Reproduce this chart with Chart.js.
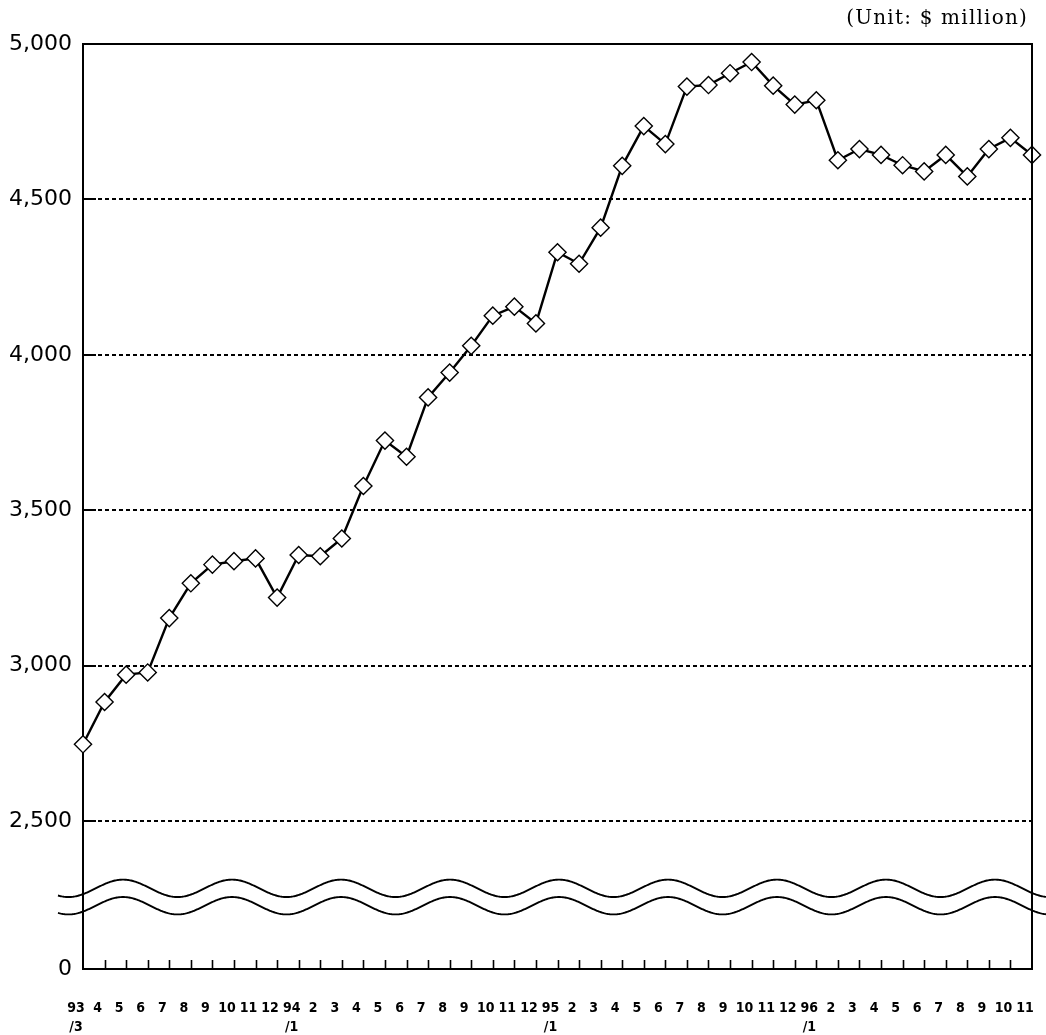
<!DOCTYPE html>
<html>
<head>
<meta charset="utf-8">
<script src="https://cdn.jsdelivr.net/npm/chart.js@4/dist/chart.umd.min.js"></script>
<style>
  html, body { margin: 0; padding: 0; background: #fff; }
  canvas { display: block; }
</style>
</head>
<body>
<canvas id="chart" width="1046" height="1035"></canvas>
<script>
// Monthly outstanding balance, March 1993 – November 1996 ($ million)
const months = [
  '93/3','93/4','93/5','93/6','93/7','93/8','93/9','93/10','93/11','93/12',
  '94/1','94/2','94/3','94/4','94/5','94/6','94/7','94/8','94/9','94/10','94/11','94/12',
  '95/1','95/2','95/3','95/4','95/5','95/6','95/7','95/8','95/9','95/10','95/11','95/12',
  '96/1','96/2','96/3','96/4','96/5','96/6','96/7','96/8','96/9','96/10','96/11'
];

const monthTickLabels = [
  ['93','/3'],'4','5','6','7','8','9','10','11','12',
  ['94','/1'],'2','3','4','5','6','7','8','9','10','11','12',
  ['95','/1'],'2','3','4','5','6','7','8','9','10','11','12',
  ['96','/1'],'2','3','4','5','6','7','8','9','10','11'
];

const balance = [
  2747, 2883, 2971, 2978, 3153, 3265, 3325, 3336, 3345, 3219,
  3356, 3352, 3409, 3578, 3724, 3672, 3863, 3943, 4029, 4126, 4155, 4101,
  4330, 4293, 4409, 4608, 4736, 4678, 4863, 4868, 4906, 4942, 4866, 4805,
  4819, 4626, 4662, 4643, 4610, 4590, 4643, 4574, 4662, 4698, 4643
];

const yTickValues = [0, 2500, 3000, 3500, 4000, 4500, 5000];

// The axis is broken between 0 and 2,500: zero sits at this axis position.
const AXIS_FLOOR = 2024;
const AXIS_TOP = 5000;
const toAxis = v => (v < 2500 ? AXIS_FLOOR : v);

const unitText = '(Unit: $ million)';

// Frame (top/right), inward tick marks, axis break and unit caption
const decorations = {
  id: 'decorations',
  afterDraw(chart) {
    const { ctx, chartArea: a, scales: { x, y } } = chart;
    ctx.save();
    ctx.strokeStyle = '#000';
    ctx.lineCap = 'butt';

    // top and right edges of the frame
    ctx.lineWidth = 2;
    ctx.beginPath();
    ctx.moveTo(a.left, a.top);
    ctx.lineTo(a.right, a.top);
    ctx.lineTo(a.right, a.bottom);
    ctx.stroke();

    // short solid ticks pointing into the plot at each value gridline
    ctx.lineWidth = 2;
    y.ticks.forEach(t => {
      if (t.value === AXIS_FLOOR || t.value === AXIS_TOP) return;
      const py = Math.round(y.getPixelForValue(t.value));
      ctx.beginPath();
      ctx.moveTo(a.left, py);
      ctx.lineTo(a.left + 13, py);
      ctx.stroke();
    });

    // month tick marks standing up from the baseline
    ctx.lineWidth = 1.6;
    for (let i = 1; i < months.length - 1; i++) {
      const px = Math.round(x.getPixelForTick(i)) + 0.5;
      ctx.beginPath();
      ctx.moveTo(px, a.bottom);
      ctx.lineTo(px, a.bottom - 9);
      ctx.stroke();
    }

    // wavy break lines between 0 and 2,500
    const mid = (y.getPixelForValue(2500) + a.bottom) / 2 + 2;
    const amp = 8.7, period = 109, crest = a.left + 40, gap = 8.7;
    const x0 = a.left - 25, x1 = chart.width;
    ctx.lineWidth = 1.9;
    [-gap, gap].forEach(off => {
      ctx.beginPath();
      for (let px = x0; px <= x1; px += 1) {
        const py = mid + off - amp * Math.cos(2 * Math.PI * (px - crest) / period);
        if (px === x0) ctx.moveTo(px, py); else ctx.lineTo(px, py);
      }
      ctx.stroke();
    });

    // unit caption
    ctx.fillStyle = '#000';
    ctx.font = '20px "DejaVu Serif", "Liberation Serif", serif';
    if ('letterSpacing' in ctx) ctx.letterSpacing = '1.2px';
    ctx.textAlign = 'right';
    ctx.textBaseline = 'middle';
    ctx.fillText(unitText, 1028, 19);
    ctx.restore();
  }
};

new Chart(document.getElementById('chart'), {
  type: 'line',
  data: {
    labels: months,
    datasets: [{
      data: balance.map(toAxis),
      borderColor: '#000',
      borderWidth: 2.4,
      tension: 0,
      clip: false,
      pointStyle: 'rectRot',
      pointRadius: 8.6,
      pointBorderWidth: 1.4,
      pointBackgroundColor: '#fff',
      pointBorderColor: '#000'
    }]
  },
  options: {
    responsive: false,
    animation: false,
    devicePixelRatio: 1,
    layout: { padding: { top: 44, right: 14, bottom: 0, left: 0 } },
    plugins: {
      legend: { display: false },
      tooltip: { enabled: false },
      title: { display: false }
    },
    scales: {
      x: {
        type: 'category',
        offset: false,
        grid: { display: false, drawTicks: false },
        border: { display: true, color: '#000', width: 2 },
        ticks: {
          autoSkip: false,
          maxRotation: 0,
          minRotation: 0,
          padding: 30,
          labelOffset: -7,
          color: '#000',
          font: {
            family: "'Liberation Sans Narrow', 'DejaVu Sans Condensed', 'Liberation Sans', sans-serif",
            size: 14,
            weight: 'bold',
            lineHeight: 1.35
          },
          callback: (value, index) => monthTickLabels[index]
        },
        afterFit: s => {
          s.height = 66;
          s.paddingLeft = 0; s.paddingRight = 0;
        }
      },
      y: {
        type: 'linear',
        min: AXIS_FLOOR,
        max: AXIS_TOP,
        afterBuildTicks: s => {
          s.ticks = yTickValues.map(v => ({ value: toAxis(v) }));
        },
        grid: {
          drawTicks: false,
          lineWidth: 2,
          color: c => (c.tick && (c.tick.value === AXIS_FLOOR || c.tick.value === AXIS_TOP)) ? 'rgba(0,0,0,0)' : '#000'
        },
        border: { display: true, color: '#000', width: 2, dash: [4, 3] },
        ticks: {
          padding: 11,
          color: '#000',
          font: { family: "'DejaVu Sans', sans-serif", size: 22 },
          callback: value => (value === AXIS_FLOOR ? '0' : value.toLocaleString('en-US'))
        },
        afterFit: s => {
          s.width = 83;
          s.paddingTop = 0; s.paddingBottom = 0;
        }
      }
    }
  },
  plugins: [decorations]
});
</script>
</body>
</html>
